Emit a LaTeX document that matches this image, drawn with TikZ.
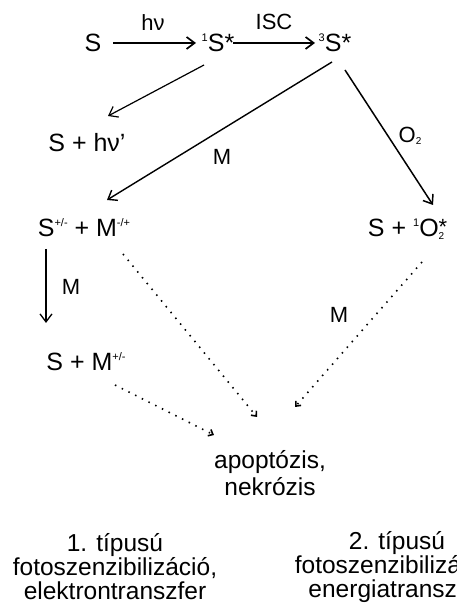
\documentclass[tikz,border=0pt]{standalone}
\usepackage{fontspec}
\setmainfont{Liberation Sans}
\usetikzlibrary{arrows.meta,calc}
\newcommand\supx[1]{\raisebox{9.5pt}{\fontsize{11}{11}\selectfont #1}}
\newcommand\subx[1]{\raisebox{-2pt}{\fontsize{10}{10}\selectfont #1}}
\begin{document}
\begin{tikzpicture}[x=1pt,y=1pt,
 chem/.style={inner sep=0pt, text height=17pt, text depth=0pt, font=\fontsize{25}{28}\selectfont},
 elab/.style={inner sep=0pt, text height=16pt, text depth=0pt, font=\fontsize{22}{26}\selectfont},
 body/.style={inner sep=0pt, align=center, font=\fontsize{24.5}{24}\selectfont},
 arr/.style={-{Straight Barb[length=8pt,width=12pt]}, line width=1.7pt},
 thinarr/.style={arr, line width=1.2pt},
 dots/.style={-{Straight Barb[length=4pt,width=7pt]}, line width=1.6pt, dash pattern=on 1.5pt off 6pt}]
\useasboundingbox (0,0) rectangle (456,613);
\clip (0,0) rectangle (456,613);
\node[chem] (S) at (93,570) {S};
\node[chem] (S1) at (218,570) {\supx{1}S*};
\node[chem] (S3) at (335,570) {\supx{3}S*};
\node[elab] (hv) at (153,590) {hν};
\node[elab] (isc) at (274,591) {ISC};
\node[chem] (Shv) at (87,470) {S + hν’};
\node[chem] (Spm) at (84,385) {S\supx{+/-} + M\supx{-/+}};
\node[chem] (SO) at (411,385) {S + \supx{1}O\rlap{\raisebox{2pt}{\fontsize{22}{22}\selectfont *}}\raisebox{-3pt}{\fontsize{10}{10}\selectfont 2}\phantom{*}};
\node[chem] (SM) at (86,251) {S + M\supx{+/-}};
\node[body, font=\fontsize{24.5}{27}\selectfont] (apo) at (270,140) {apoptózis,\\nekrózis};
\node[body] (t1) at (115,46) {1. típusú\\fotoszenzibilizáció,\\elektrontranszfer};
\node[body] (t2) at (397,46) {2. típusú\\fotoszenzibilizáció,\\energiatranszfer};
\node[elab] (m1) at (222,456) {M};
\node[elab] (o2) at (410,478) {O\subx{2}};
\node[elab] (m2) at (71,326) {M};
\node[elab] (m3) at (339,298) {M};
\draw[arr] ($(S)+(20,0)$) -- ($(S1)+(-22,0)$);
\draw[arr] ($(S1)+(15,0)$) -- ($(S3)+(-20,0)$);
\draw[thinarr] ($(S1)+(-14,-22)$) -- ($(Shv)+(21,27)$);
\draw[arr, line width=1.4pt] ($(S3)+(-3,-19)$) -- ($(Spm)+(23,28)$);
\draw[arr, line width=1.5pt] ($(S3)+(10,-27)$) -- ($(SO)+(22,23)$);
\draw[arr, line width=1.3pt] ($(Spm)+(-38,-21)$) -- ($(SM)+(-40,39)$);
\draw[dots] ($(Spm)+(39,-26)$) -- ($(apo)+(-13,56)$);
\draw[dots] ($(SO)+(11,-34)$) -- ($(apo)+(25,66)$);
\draw[dots] ($(SM)+(29,-23)$) -- ($(apo)+(-56,38)$);
\end{tikzpicture}
\end{document}
